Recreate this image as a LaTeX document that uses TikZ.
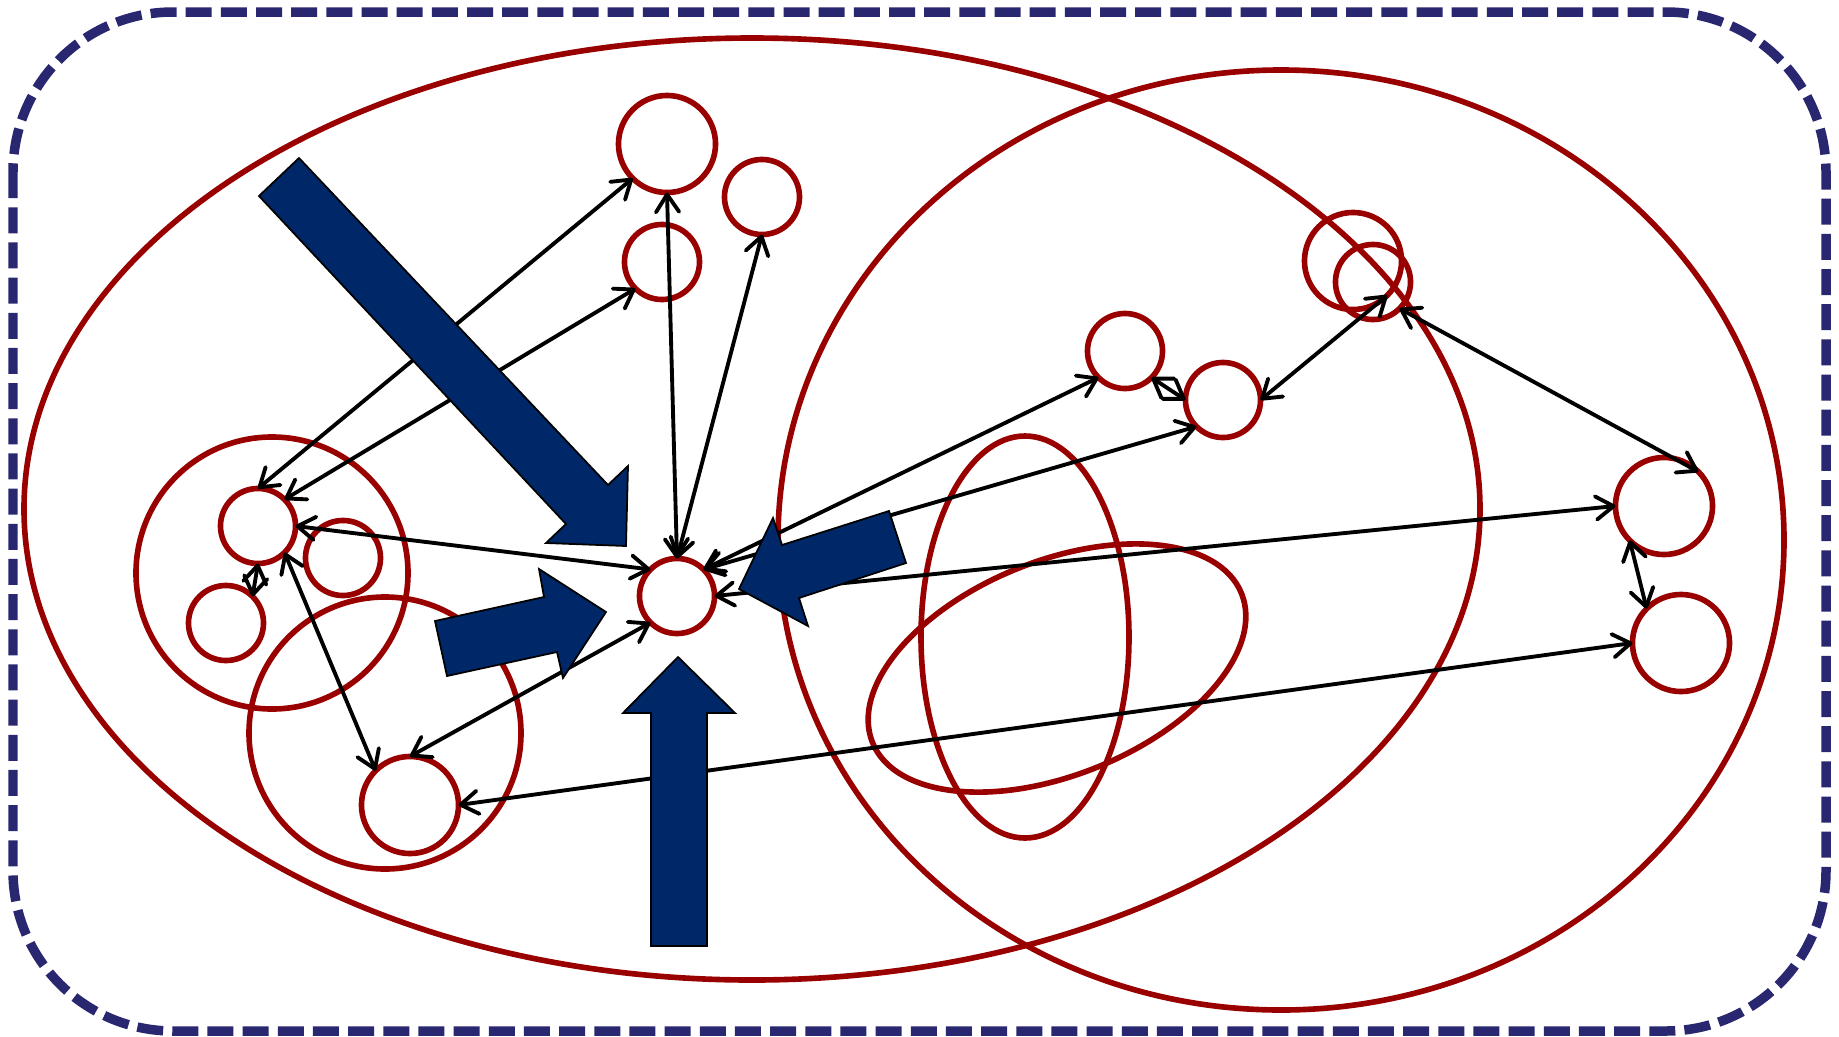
\documentclass[tikz,border=0pt]{standalone}
\usepackage{tikz}
\usepackage{xcolor}
\usetikzlibrary{arrows.meta}
\definecolor{ringRed}{RGB}{153,0,0}
\definecolor{arrowNavy}{RGB}{0,40,104}
\definecolor{frameNavy}{RGB}{41,39,112}
\tikzset{
  ring/.style={draw=ringRed,line width=1.6pt},
  dot/.style={circle,draw=ringRed,line width=1.6pt,minimum size=0.75cm,inner sep=0pt,outer sep=0pt},
  bigdot/.style={dot,minimum size=0.97cm},
  link/.style={>={Straight Barb[length=5pt,width=6.6pt,round]},<->,line width=1.1pt,line cap=round},
  blockarrow/.style={fill=arrowNavy,draw=black,line width=0.5pt}
}

\begin{document}
\begin{tikzpicture}[x=0.01cm,y=-0.01cm]
\useasboundingbox (0,0) rectangle (1839,1036);
\draw[frameNavy,line width=2.7pt,dash pattern=on 7.4pt off 2.6pt,rounded corners=1.6cm] (13,12) rectangle (1826,1031);
\draw[ring] (752,509) ellipse [x radius=728,y radius=471];
\draw[ring] (1281,540) ellipse [x radius=503,y radius=470];
\draw[ring] (272,573) circle [radius=136];
\draw[ring] (385,733) circle [radius=136];
\draw[ring] (1025,637) ellipse [x radius=104,y radius=201];
\draw[ring,rotate around={22:(1057,668)}] (1057,668) ellipse [x radius=199,y radius=107];
\node[bigdot] (topBig) at (667,144) {};
\node[dot] (topRight) at (762,197) {};
\node[dot] (topMid) at (662,262) {};
\node[dot] (hub) at (677,596) {};
\node[dot] (leftA) at (258,526) {};
\node[dot] (leftB) at (343,558) {};
\node[dot] (leftC) at (226,623) {};
\node[bigdot] (leftLow) at (410,805) {};
\node[dot] (midA) at (1125,351) {};
\node[dot] (midB) at (1223,400) {};
\node[bigdot] (pairBig) at (1353,261) {};
\node[dot] (pairSmall) at (1373,282) {};
\node[bigdot] (farA) at (1664,506) {};
\node[bigdot] (farB) at (1681,643) {};
\draw[link] (leftA.north) -- (topBig.south west);
\draw[link] (leftA.north east) -- (topMid.south west);
\draw[link] (leftA.east) -- (hub.north west);
\draw[link] (leftA.south) -- (leftC.north east);
\draw[link] (leftA.south east) -- (leftLow.north west);
\draw[link] (hub.south west) -- (leftLow.north);
\draw[link] (hub.north) -- (topBig.south);
\draw[link] (hub.north) -- (topRight.south);
\draw[link] (hub.north east) -- (midA.south west);
\draw[link] (hub.north east) -- (midB.south west);
\draw[link] (hub.east) -- (farA.west);
\draw[link] (midA.south east) -- (midB.west);
\draw[link] (midB.east) -- (pairBig.south east);
\draw[link] (pairSmall.south east) -- (farA.north east);
\draw[link] (farA.south west) -- (farB.north west);
\draw[link] (leftLow.east) -- (farB.west);
\draw[blockarrow] (259,196) -- (299,158) -- (608,485) -- (628,466) -- (626,546) -- (546,543) -- (566,524) -- cycle;
\draw[blockarrow] (435,621) -- (544,597) -- (539,569) -- (606,612) -- (563,678) -- (557,652) -- (447,676) -- cycle;
\draw[blockarrow] (889,511) -- (906,563) -- (799,598) -- (808,626) -- (739,589) -- (773,518) -- (782,545) -- cycle;
\draw[blockarrow] (651,946) -- (651,713) -- (623,713) -- (678,657) -- (735,713) -- (707,713) -- (707,946) -- cycle;
\end{tikzpicture}
\end{document}
